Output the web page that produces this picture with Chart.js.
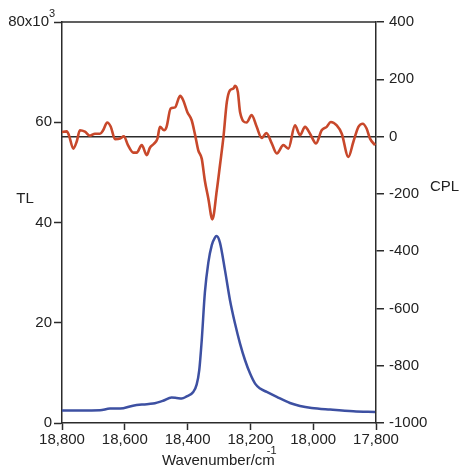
<!DOCTYPE html>
<html>
<head>
<meta charset="utf-8">
<script src="https://cdn.jsdelivr.net/npm/chart.js@4"></script>
<style>
  body { margin: 0; background: #fff; }
</style>
</head>
<body>
<canvas id="chart" width="460" height="468"></canvas>
<script>
// CPL trace (right axis)
const cplWavenumber = [18800,18785,18778,18764,18753,18743,18727,18711,18695,18679,18669,18656,18645,18631,18615,18603,18590,18573,18562,18546,18530,18520,18507,18496,18488,18475,18467,18454,18440,18424,18414,18401,18387,18376,18366,18355,18345,18334,18321,18307,18297,18286,18275,18265,18254,18249,18240,18233,18212,18196,18180,18164,18149,18132,18116,18095,18079,18058,18042,18026,18010,17991,17973,17957,17944,17925,17909,17888,17872,17856,17842,17830,17819,17803];
const cplValues = [16,18,5,-42,-17,22,17,3,10,10,22,49,35,-9,-7,1,-30,-56,-56,-30,-65,-39,-25,-7,34,22,34,98,102,142,127,86,57,5,-48,-77,-154,-216,-289,-188,-101,-3,121,162,168,177,156,86,49,75,34,-5,12,-24,-59,-30,-42,39,5,34,10,-24,22,34,51,39,10,-71,-18,34,45,28,-7,-30];

// TL trace (left axis)
const tlWavenumber = [18800,18743,18679,18647,18615,18574,18542,18510,18478,18451,18435,18419,18403,18382,18371,18363,18355,18345,18334,18323,18313,18308,18297,18281,18265,18249,18233,18217,18201,18185,18169,18148,18116,18074,18042,18005,17946,17872,17803];
const tlValues = [2500,2500,2550,2870,2870,3450,3700,3870,4450,5100,5000,4870,5300,6190,7700,10500,16500,26000,32000,35500,37000,37300,36000,30500,24500,19840,15850,12520,9860,7860,6870,6190,5200,3990,3390,2990,2670,2340,2200];

const xTicks = [18800, 18600, 18400, 18200, 18000, 17800];
const tlTicks = [0, 20000, 40000, 60000, 80000];
const cplTicks = [400, 200, 0, -200, -400, -600, -800, -1000];

const FONT = "'Liberation Sans', Arial, sans-serif";
const AXIS = '#2b2b2b';

// frame top line and superscripted labels
const extras = {
  id: 'extras',
  afterDraw(chart) {
    const c = chart.ctx, a = chart.chartArea;
    c.save();
    c.strokeStyle = AXIS;
    c.lineWidth = 1.5;
    c.beginPath();
    c.moveTo(a.left, a.top);
    c.lineTo(a.right, a.top);
    c.stroke();

    c.fillStyle = '#222';
    c.textBaseline = 'middle';
    const yTop = chart.scales.yTL.getPixelForValue(80000);
    c.font = '15px ' + FONT;
    c.textAlign = 'right';
    c.fillText('80x10', 49, yTop);
    c.font = '11px ' + FONT;
    c.textAlign = 'left';
    c.fillText('3', 49, yTop - 8);

    c.font = '15px ' + FONT;
    c.textAlign = 'center';
    c.fillText('TL', 25, 199);
    c.textAlign = 'left';
    c.fillText('CPL', 430, 187);

    c.textAlign = 'left';
    c.textBaseline = 'alphabetic';
    c.fillText('Wavenumber/cm', 162, 465);
    const w = c.measureText('Wavenumber/cm').width;
    c.font = '11px ' + FONT;
    c.fillText('-1', 162 + w - 8, 454);
    c.restore();
  }
};

new Chart(document.getElementById('chart'), {
  type: 'line',
  data: {
    datasets: [
      {
        label: 'TL',
        data: tlWavenumber.map((x, i) => ({ x, y: tlValues[i] })),
        yAxisID: 'yTL',
        borderColor: '#3d50a2',
        borderWidth: 2.5,
        pointRadius: 0,
        cubicInterpolationMode: 'monotone'
      },
      {
        label: 'CPL',
        data: cplWavenumber.map((x, i) => ({ x, y: cplValues[i] })),
        yAxisID: 'yCPL',
        borderColor: '#c8482b',
        borderWidth: 2.6,
        pointRadius: 0,
        cubicInterpolationMode: 'monotone'
      }
    ]
  },
  options: {
    responsive: false,
    animation: false,
    layout: { padding: { top: 22, left: 0, right: 0, bottom: 0 } },
    plugins: { legend: { display: false }, tooltip: { enabled: false } },
    scales: {
      x: {
        type: 'linear',
        position: 'bottom',
        reverse: true,
        min: 17800,
        max: 18800,
        afterBuildTicks: s => { s.ticks = xTicks.map(v => ({ value: v })); },
        afterFit: s => { s.height = 45; },
        ticks: {
          color: '#222',
          font: { family: FONT, size: 15 },
          padding: 1,
          maxRotation: 0,
          callback: v => v.toLocaleString('en-US')
        },
        grid: { drawOnChartArea: false, tickLength: 7, tickColor: AXIS, tickWidth: 1.5 },
        border: { color: AXIS, width: 1.5 }
      },
      yTL: {
        type: 'linear',
        position: 'left',
        min: 0,
        max: 80000,
        afterBuildTicks: s => { s.ticks = tlTicks.map(v => ({ value: v })); },
        afterFit: s => { s.width = 62; },
        ticks: {
          color: '#222',
          font: { family: FONT, size: 15 },
          padding: 2,
          callback: v => v === 80000 ? '' : String(v / 1000)
        },
        grid: { drawOnChartArea: false, tickLength: 8, tickColor: AXIS, tickWidth: 1.5 },
        border: { color: AXIS, width: 1.5 }
      },
      yCPL: {
        type: 'linear',
        position: 'right',
        min: -1000,
        max: 400,
        afterBuildTicks: s => { s.ticks = cplTicks.map(v => ({ value: v })); },
        afterFit: s => { s.width = 84; },
        ticks: {
          color: '#222',
          font: { family: FONT, size: 15 },
          padding: 5,
          callback: v => String(v)
        },
        grid: {
          drawOnChartArea: true,
          color: ctx => (ctx.tick && ctx.tick.value === 0) ? AXIS : 'rgba(0,0,0,0)',
          lineWidth: 1.5,
          tickLength: 8,
          tickColor: AXIS,
          tickWidth: 1.5
        },
        border: { color: AXIS, width: 1.5 }
      }
    }
  },
  plugins: [extras]
});
</script>
</body>
</html>
